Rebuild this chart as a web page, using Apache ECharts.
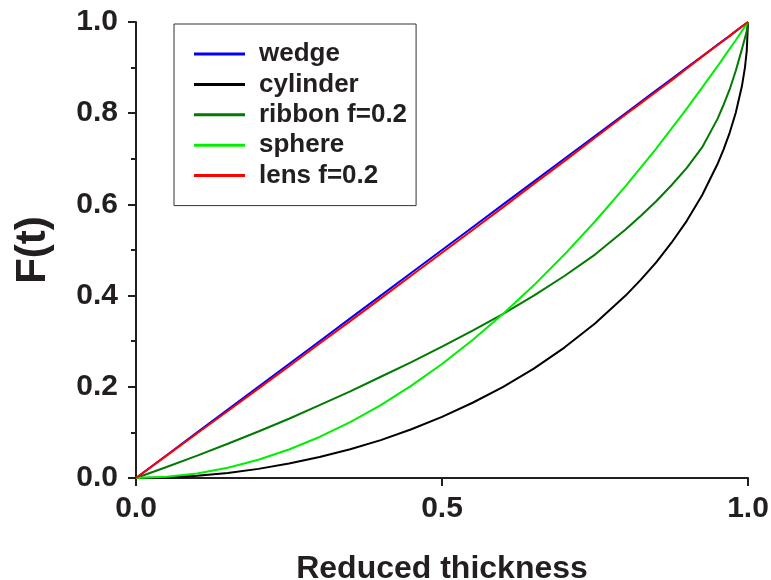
<!DOCTYPE html>
<html>
<head>
<meta charset="utf-8">
<script src="https://cdn.jsdelivr.net/npm/echarts@6/dist/echarts.min.js"></script>
<style>html,body{margin:0;padding:0;background:#fff}#c{width:771px;height:580px}</style>
</head>
<body>
<div id="c"></div>
<script>
// Reduced thickness values (x) at which curves were read
var tValues = [0, 0.05, 0.1, 0.15, 0.2, 0.25, 0.3, 0.35, 0.4, 0.45, 0.5, 0.55, 0.6, 0.65, 0.7, 0.75, 0.8, 0.825, 0.85, 0.875, 0.9, 0.925, 0.95, 0.96, 0.97, 0.98, 0.99, 0.995, 0.998, 1];
var wedge    = [0, 0.05, 0.1, 0.15, 0.2, 0.25, 0.3, 0.35, 0.4, 0.45, 0.5, 0.55, 0.6, 0.65, 0.7, 0.75, 0.8, 0.825, 0.85, 0.875, 0.9, 0.925, 0.95, 0.96, 0.97, 0.98, 0.99, 0.995, 0.998, 1];
var cylinder = [0, 0.001, 0.005, 0.011, 0.020, 0.032, 0.046, 0.063, 0.083, 0.107, 0.134, 0.165, 0.200, 0.240, 0.286, 0.339, 0.400, 0.435, 0.473, 0.516, 0.564, 0.620, 0.688, 0.720, 0.757, 0.801, 0.859, 0.900, 0.937, 1];
var ribbon   = [0, 0.024, 0.049, 0.075, 0.102, 0.130, 0.160, 0.190, 0.222, 0.254, 0.288, 0.323, 0.360, 0.400, 0.443, 0.490, 0.545, 0.575, 0.607, 0.642, 0.680, 0.725, 0.787, 0.818, 0.852, 0.893, 0.940, 0.965, 0.980, 1];
var sphere   = [0, 0.0025, 0.01, 0.0225, 0.04, 0.0625, 0.09, 0.1225, 0.16, 0.2025, 0.25, 0.3025, 0.36, 0.4225, 0.49, 0.5625, 0.64, 0.681, 0.7225, 0.766, 0.81, 0.856, 0.9025, 0.922, 0.941, 0.960, 0.980, 0.990, 0.996, 1];
var lens     = [0, 0.049, 0.098, 0.147, 0.196, 0.245, 0.295, 0.344, 0.394, 0.444, 0.494, 0.544, 0.594, 0.645, 0.695, 0.746, 0.797, 0.822, 0.847, 0.872, 0.898, 0.924, 0.949, 0.959, 0.969, 0.980, 0.990, 0.995, 0.998, 1];
var seriesNames = ['wedge', 'cylinder', 'ribbon f=0.2', 'sphere', 'lens f=0.2'];
var seriesColors = ['#0000ff', '#000000', '#007a00', '#00f000', '#ff0000'];
var xTicks = [0, 0.5, 1];
var yTicks = [0, 0.2, 0.4, 0.6, 0.8, 1];

var ink = '#231f20';
var font = '"Liberation Sans", Arial, Helvetica, sans-serif';
function pairs(ys) { return tValues.map(function (t, i) { return [t, ys[i]]; }); }
var allData = [wedge, cylinder, ribbon, sphere, lens];

var chart = echarts.init(document.getElementById('c'), null, {renderer: 'canvas'});
chart.setOption({
  animation: false,
  backgroundColor: '#fff',
  textStyle: {fontFamily: font},
  grid: {left: 136, right: 23, top: 22, bottom: 102, containLabel: false, outerBoundsMode: 'none'},
  legend: {
    orient: 'vertical',
    left: 174, top: 24,
    padding: [17, 9, 17, 20],
    itemGap: 4.4,
    itemWidth: 51,
    itemHeight: 3,
    icon: 'rect',
    borderColor: '#333',
    borderWidth: 1,
    borderRadius: 0,
    backgroundColor: '#fff',
    selectedMode: false,
    textStyle: {fontFamily: font, fontSize: 26, fontWeight: 'bold', color: ink, padding: [0, 0, 0, 9], lineHeight: 26},
    data: seriesNames
  },
  xAxis: {
    type: 'value', min: 0, max: 1, interval: 0.5,
    name: 'Reduced thickness', nameLocation: 'middle', nameGap: 75,
    nameTextStyle: {fontFamily: font, fontSize: 32, fontWeight: 'bold', color: ink},
    axisLine: {show: true, onZero: false, lineStyle: {color: ink, width: 2}},
    axisTick: {show: true, length: 8, lineStyle: {color: ink, width: 2}},
    minorTick: {show: false},
    splitLine: {show: false},
    axisLabel: {
      margin: 16, fontFamily: font, fontSize: 30, fontWeight: 'bold', color: ink,
      formatter: function (v) { return xTicks.indexOf(v) >= 0 ? v.toFixed(1) : ''; }
    }
  },
  yAxis: {
    type: 'value', min: 0, max: 1, interval: 0.2,
    name: 'F(t)', nameLocation: 'middle', nameGap: 82, nameRotate: 90,
    nameTextStyle: {fontFamily: font, fontSize: 42, fontWeight: 'bold', color: ink},
    axisLine: {show: true, onZero: false, lineStyle: {color: ink, width: 2}},
    axisTick: {show: true, length: 8, lineStyle: {color: ink, width: 2}},
    minorTick: {show: true, splitNumber: 2, length: 5, lineStyle: {color: ink, width: 2}},
    splitLine: {show: false},
    axisLabel: {
      margin: 18, fontFamily: font, fontSize: 30, fontWeight: 'bold', color: ink,
      formatter: function (v) { return yTicks.indexOf(Math.round(v * 10) / 10) >= 0 ? v.toFixed(1) : ''; }
    }
  },
  series: seriesNames.map(function (n, i) {
    return {
      name: n, type: 'line', data: pairs(allData[i]),
      symbol: 'none', showSymbol: false,
      smooth: false,
      lineStyle: {color: seriesColors[i], width: 2},
      itemStyle: {color: seriesColors[i]},
      z: 2 + i
    };
  })
});
</script>
</body>
</html>
